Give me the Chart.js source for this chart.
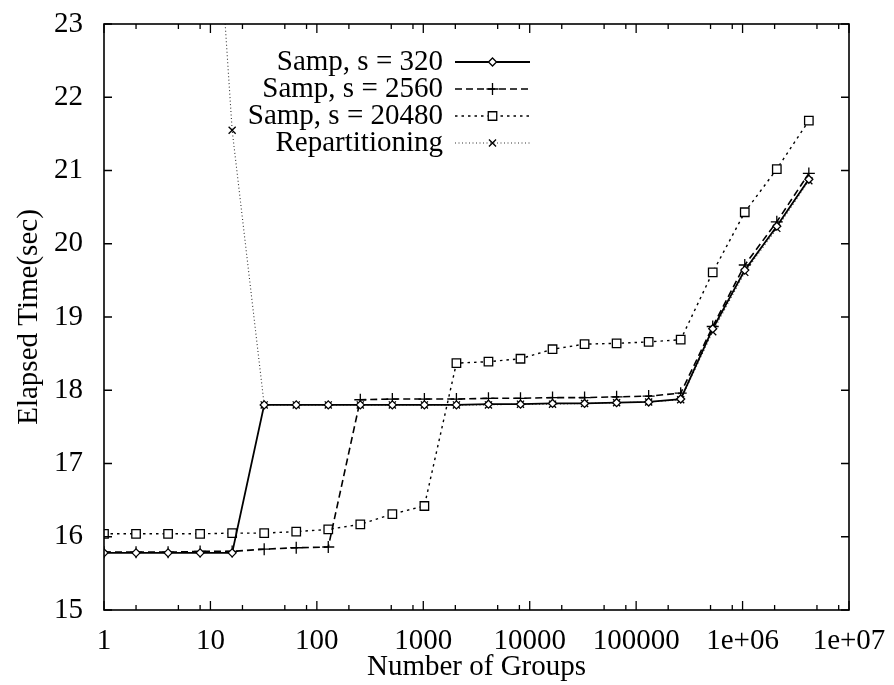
<!DOCTYPE html>
<html>
<head>
<meta charset="utf-8">
<script src="https://cdn.jsdelivr.net/npm/chart.js@4.4.0/dist/chart.umd.min.js"></script>
<style>
  html, body { margin: 0; padding: 0; background: #fff; }
</style>
</head>
<body>
<canvas id="chart" width="894" height="685"></canvas>
<script>
// x: number of groups (powers of two), y: elapsed time in seconds
const groups = [1, 2, 4, 8, 16, 32, 64, 128, 256, 512, 1024, 2048, 4096, 8192, 16384,
  32768, 65536, 131072, 262144, 524288, 1048576, 2097152, 4194304];

const samp320 = [15.78, 15.78, 15.78, 15.78, 15.78, 17.80, 17.80, 17.80, 17.80, 17.80, 17.80, 17.80,
  17.81, 17.81, 17.82, 17.82, 17.83, 17.84, 17.88, 18.84, 19.64, 20.24, 20.88];
const samp2560 = [15.79, 15.79, 15.79, 15.80, 15.80, 15.83, 15.85, 15.86, 17.87, 17.88, 17.88, 17.88,
  17.89, 17.89, 17.90, 17.90, 17.91, 17.92, 17.96, 18.87, 19.71, 20.30, 20.96];
const samp20480 = [16.04, 16.04, 16.04, 16.04, 16.05, 16.05, 16.07, 16.10, 16.17, 16.31, 16.42, 18.37,
  18.39, 18.43, 18.56, 18.63, 18.64, 18.66, 18.69, 19.61, 20.43, 21.02, 21.68];
const repart = [null, null, null, 28.2, 21.55, 17.80, 17.80, 17.80, 17.80, 17.80, 17.80, 17.80,
  17.80, 17.81, 17.81, 17.82, 17.83, 17.84, 17.87, 18.80, 19.61, 20.21, 20.86];

const xTicks = [1, 10, 100, 1000, 10000, 100000, 1000000, 10000000];
const xTickLabels = ['1', '10', '100', '1000', '10000', '100000', '1e+06', '1e+07'];
const yTicks = [15, 16, 17, 18, 19, 20, 21, 22, 23];

const FONT = '"Liberation Serif", "Times New Roman", serif';
const FSIZE = 29;

function pts(arr) {
  return groups.map((g, i) => ({ x: g, y: arr[i] }));
}

// gnuplot style frame with inward ticks on all four sides
const framePlugin = {
  id: 'frame',
  afterDatasetsDraw(chart) {
    const { ctx, chartArea: a, scales: { x, y } } = chart;
    ctx.save();
    ctx.strokeStyle = '#000';
    ctx.lineWidth = 1.6;
    ctx.setLineDash([]);
    ctx.strokeRect(a.left, a.top, a.right - a.left, a.bottom - a.top);
    ctx.lineWidth = 1.3;
    ctx.beginPath();
    yTicks.forEach(v => {
      const py = y.getPixelForValue(v);
      ctx.moveTo(a.left, py); ctx.lineTo(a.left + 8, py);
      ctx.moveTo(a.right, py); ctx.lineTo(a.right - 8, py);
    });
    xTicks.forEach(v => {
      const px = x.getPixelForValue(v);
      ctx.moveTo(px, a.bottom); ctx.lineTo(px, a.bottom - 9);
      ctx.moveTo(px, a.top); ctx.lineTo(px, a.top + 9);
      [2, 5, 8].forEach(m => {
        if (v * m > 1e7) return;
        const pm = x.getPixelForValue(v * m);
        ctx.moveTo(pm, a.bottom); ctx.lineTo(pm, a.bottom - 5);
        ctx.moveTo(pm, a.top); ctx.lineTo(pm, a.top + 5);
      });
    });
    ctx.stroke();
    ctx.restore();
  }
};

// key in the upper middle: text right aligned, then line sample with marker
const keyPlugin = {
  id: 'key',
  afterDraw(chart) {
    const ctx = chart.ctx;
    const textRight = 443, x0 = 455, x1 = 530, top = 62, row = 27;
    ctx.save();
    ctx.font = FSIZE + 'px ' + FONT;
    ctx.textAlign = 'right';
    ctx.textBaseline = 'middle';
    chart.data.datasets.forEach((ds, i) => {
      const yy = top + i * row;
      ctx.fillStyle = '#000';
      ctx.fillText(ds.label, textRight, yy);
      ctx.strokeStyle = ds.borderColor;
      ctx.lineWidth = ds.borderWidth;
      ctx.setLineDash(ds.borderDash || []);
      ctx.beginPath();
      ctx.moveTo(x0, yy); ctx.lineTo(x1, yy);
      ctx.stroke();
      ctx.setLineDash([]);
      ctx.fillStyle = ds.pointBackgroundColor;
      ctx.strokeStyle = ds.pointBorderColor;
      ctx.lineWidth = ds.pointBorderWidth;
      Chart.helpers.drawPoint(ctx, {
        pointStyle: ds.pointStyle, radius: ds.pointRadius,
        borderWidth: ds.pointBorderWidth, rotation: 0
      }, (x0 + x1) / 2, yy);
    });
    ctx.restore();
  }
};

function series(label, data, dash, style, radius, color, width) {
  return {
    label: label,
    data: pts(data),
    borderColor: color,
    borderWidth: width,
    borderDash: dash,
    pointStyle: style,
    pointRadius: radius,
    pointBorderWidth: 1.3,
    pointBorderColor: '#000',
    pointBackgroundColor: '#fff',
    fill: false,
    tension: 0,
    spanGaps: false
  };
}

new Chart(document.getElementById('chart'), {
  type: 'line',
  data: {
    datasets: [
      series('Samp, s = 320', samp320, [], 'rectRot', 4, '#000', 1.8),
      series('Samp, s = 2560', samp2560, [7, 4], 'cross', 6, '#000', 1.6),
      series('Samp, s = 20480', samp20480, [2.5, 4], 'rect', 6, '#000', 1.4),
      series('Repartitioning', repart, [1, 2.5], 'crossRot', 5, '#333', 1.1)
    ]
  },
  options: {
    responsive: false,
    animation: false,
    devicePixelRatio: 1,
    layout: { padding: { left: 0, right: 45, top: 24, bottom: 0 } },
    plugins: { legend: { display: false }, tooltip: { enabled: false } },
    scales: {
      x: {
        type: 'logarithmic',
        min: 1,
        max: 1e7,
        grid: { display: false, drawTicks: true, tickLength: 14 },
        border: { display: false },
        afterBuildTicks: s => { s.ticks = xTicks.map(v => ({ value: v })); },
        afterFit: s => { s.height = 75; },
        ticks: {
          autoSkip: false,
          maxRotation: 0,
          padding: 0,
          color: '#000',
          font: { family: FONT, size: FSIZE },
          callback: (v) => xTickLabels[xTicks.indexOf(v)]
        },
        title: {
          display: true,
          text: 'Number of Groups',
          color: '#000',
          font: { family: FONT, size: FSIZE },
          padding: { top: 0, bottom: 0 }
        }
      },
      y: {
        min: 15,
        max: 23,
        grid: { display: false, drawTicks: true, tickLength: 21 },
        border: { display: false },
        afterBuildTicks: s => { s.ticks = yTicks.map(v => ({ value: v })); },
        afterFit: s => { s.width = 104; },
        ticks: {
          padding: 0,
          color: '#000',
          font: { family: FONT, size: FSIZE }
        },
        title: {
          display: true,
          text: 'Elapsed Time(sec)',
          color: '#000',
          font: { family: FONT, size: FSIZE },
          padding: { top: 12, bottom: 0 }
        }
      }
    }
  },
  plugins: [framePlugin, keyPlugin]
});
</script>
</body>
</html>
